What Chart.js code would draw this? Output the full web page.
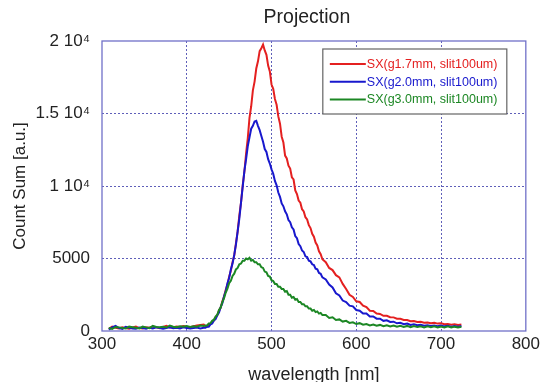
<!DOCTYPE html>
<html>
<head>
<meta charset="utf-8">
<script src="https://cdn.jsdelivr.net/npm/chart.js@4.4.1/dist/chart.umd.min.js"></script>
<style>
  html, body { margin: 0; padding: 0; background: #ffffff; }
  #wrap { width: 543px; height: 382px; }
</style>
</head>
<body>
<div id="wrap"><canvas id="c" width="543" height="382"></canvas></div>
<script>
const chartTitle = 'Projection';
const xTitle = 'wavelength [nm]';
const yTitle = 'Count Sum [a.u.]';
const seriesLabels = ['SX(g1.7mm, slit100um)', 'SX(g2.0mm, slit100um)', 'SX(g3.0mm, slit100um)'];
const seriesColors = ['rgb(228,32,32)', 'rgb(24,24,205)', 'rgb(28,135,36)'];
const yTickLabels = ['0', '5000', '1 10\u2074', '1.5 10\u2074', '2 10\u2074'];

const wavelengths = [
  308,312,316,320,324,328,332,336,340,344,348,352,356,360,364,368,372,376,380,384,388,392,396,400,404,408,412,416,420,
  422,424,426,428,430,432,434,436,438,440,442,444,446,448,450,452,454,456,458,460,462,464,466,468,470,472,474,476,478,480,
  482,484,486,488,490,492,494,496,498,500,502,504,506,508,510,512,514,516,518,520,522,524,526,528,530,532,534,536,538,540,
  542,544,546,548,550,552,554,556,558,560,
  564,568,572,576,580,584,588,592,596,600,604,608,612,616,620,624,628,632,636,640,644,648,652,656,660,664,668,672,676,680,
  684,688,692,696,700,704,708,712,716,720,724
];

const redValues = [
  150,300,220,180,260,200,150,240,310,200,180,260,220,300,250,200,280,350,240,260,310,280,350,300,260,330,380,420,450,
  330,300,460,480,640,720,950,1080,1400,1620,2050,2380,2850,3200,3750,4150,4750,5200,6050,6850,7950,8850,10050,11000,12250,13300,14700,15500,16600,17200,
  18100,18600,19300,19500,19750,19350,19050,18300,17900,17000,16700,16000,15600,14800,14300,13400,13000,12100,11900,11400,11200,10600,10450,9700,9450,9000,8850,8400,8250,7850,
  7700,7300,7100,6700,6500,6100,5900,5500,5300,4950,
  4750,4350,4200,3850,3700,3250,2900,2500,2350,2050,2000,1750,1650,1400,1380,1200,1180,1050,1050,950,940,850,840,760,760,680,690,620,630,570,
  590,540,560,510,530,470,490,440,470,420,450
];

const blueValues = [
  100,250,350,200,150,280,220,180,150,240,200,150,230,180,250,210,160,200,260,190,220,180,250,210,170,200,240,180,220,
  230,300,290,450,520,730,820,1080,1270,1640,1920,2400,2760,3300,3650,4250,4650,5250,5950,6850,7750,8850,9950,11050,11850,12750,13350,13950,14150,14450,
  14500,14150,13850,13450,13050,12550,12350,11850,11550,11150,10850,10350,10050,9550,9250,8800,8600,8250,8050,7650,7500,7150,7000,6550,6400,6000,5850,5550,5450,5150,
  5100,4850,4800,4600,4550,4300,4250,4000,3950,3700,
  3550,3200,3000,2600,2450,2100,2000,1750,1700,1450,1400,1200,1200,1000,1000,850,850,700,740,620,640,530,560,470,520,420,470,400,430,370,
  400,350,380,330,370,320,360,300,350,290,340
];

const greenValues = [
  200,150,280,250,200,170,300,260,220,180,310,250,200,350,280,260,300,240,380,290,260,330,300,350,280,320,300,380,350,
  380,380,520,540,700,780,1000,1120,1450,1620,2000,2270,2650,2920,3300,3460,3800,3950,4250,4350,4600,4650,4850,4850,5000,4950,5050,4850,4900,4750,
  4750,4600,4600,4400,4350,4100,4050,3800,3750,3500,3450,3250,3250,3050,3050,2900,2900,2700,2750,2500,2500,2300,2350,2150,2200,2000,2000,1850,1850,1700,
  1700,1550,1550,1400,1450,1300,1350,1200,1250,1100,
  1100,900,950,760,800,650,700,560,600,480,540,430,480,390,450,360,420,330,400,310,380,290,360,280,350,260,340,270,330,250,
  320,260,330,240,310,250,320,240,300,250,290
];

const seriesValues = [redValues, blueValues, greenValues];

const FONT = "'Liberation Sans', Arial, Helvetica, sans-serif";
const frameColor = 'rgb(112,112,200)';
const gridColor = 'rgb(95,95,185)';

const framePlugin = {
  id: 'frameAndLegend',
  afterDatasetsDraw(chart) {
    const ctx = chart.ctx;
    const a = chart.chartArea;
    ctx.save();
    ctx.strokeStyle = frameColor;
    ctx.lineWidth = 1.3;
    ctx.setLineDash([]);
    ctx.strokeRect(a.left, a.top, a.right - a.left, a.bottom - a.top);

    // title
    ctx.fillStyle = '#222';
    ctx.font = "19.5px " + FONT;
    ctx.textAlign = 'center';
    ctx.textBaseline = 'middle';
    ctx.fillText(chartTitle, (a.left + a.right) / 2 - 7, 18);

    // legend box inside the plot, top right
    const bx = a.right - 203, by = a.top + 8, bw = 184, bh = 65;
    ctx.fillStyle = '#ffffff';
    ctx.fillRect(bx, by, bw, bh);
    ctx.strokeStyle = 'rgb(100,100,100)';
    ctx.lineWidth = 1.2;
    ctx.strokeRect(bx, by, bw, bh);
    ctx.font = "12.5px " + FONT;
    ctx.textBaseline = 'middle';
    ctx.textAlign = 'left';
    chart.data.datasets.forEach((ds, i) => {
      const yy = by + 15 + i * 17.7;
      ctx.strokeStyle = ds.borderColor;
      ctx.lineWidth = 2;
      ctx.beginPath();
      ctx.moveTo(bx + 7, yy);
      ctx.lineTo(bx + 43, yy);
      ctx.stroke();
      ctx.fillStyle = ds.borderColor;
      ctx.fillText(ds.label, bx + 44, yy + 0.5);
    });
    ctx.restore();
  }
};

const datasets = seriesLabels.map((label, s) => ({
  label: label,
  data: wavelengths.map((w, i) => ({ x: w, y: seriesValues[s][i] })),
  borderColor: seriesColors[s],
  backgroundColor: seriesColors[s],
  borderWidth: 2,
  pointRadius: 0,
  tension: 0,
  fill: false,
  order: 3 - s
}));

new Chart(document.getElementById('c'), {
  type: 'line',
  data: { datasets: datasets },
  plugins: [framePlugin],
  options: {
    responsive: false,
    animation: false,
    layout: { padding: { left: 0, right: 15, top: 41, bottom: 0 } },
    plugins: {
      legend: { display: false },
      tooltip: { enabled: false },
      title: { display: false }
    },
    scales: {
      x: {
        type: 'linear',
        min: 300,
        max: 800,
        afterFit: (s) => { s.height = 51; },
        ticks: {
          stepSize: 100,
          color: '#222',
          padding: 3,
          maxRotation: 0,
          font: { family: FONT, size: 17 }
        },
        grid: {
          drawTicks: false,
          lineWidth: 1,
          color: (c) => (c.tick && (c.tick.value === 300 || c.tick.value === 800)) ? 'rgba(0,0,0,0)' : gridColor
        },
        border: { display: false, dash: [2, 2] },
        title: {
          display: true,
          text: xTitle,
          color: '#222',
          font: { family: FONT, size: 18, lineHeight: 0.8 },
          padding: { top: 0, bottom: 0 }
        }
      },
      y: {
        min: 0,
        max: 20000,
        afterFit: (s) => { s.width = 102; },
        ticks: {
          stepSize: 5000,
          color: '#222',
          padding: 12,
          font: { family: FONT, size: 17 },
          callback: (v, i) => yTickLabels[i]
        },
        grid: {
          drawTicks: false,
          lineWidth: 1,
          color: (c) => (c.tick && (c.tick.value === 0 || c.tick.value === 20000)) ? 'rgba(0,0,0,0)' : gridColor
        },
        border: { display: false, dash: [2, 2] },
        title: {
          display: true,
          text: yTitle,
          color: '#222',
          font: { family: FONT, size: 17 },
          padding: { top: 10, bottom: 0 }
        }
      }
    }
  }
});
</script>
</body>
</html>
